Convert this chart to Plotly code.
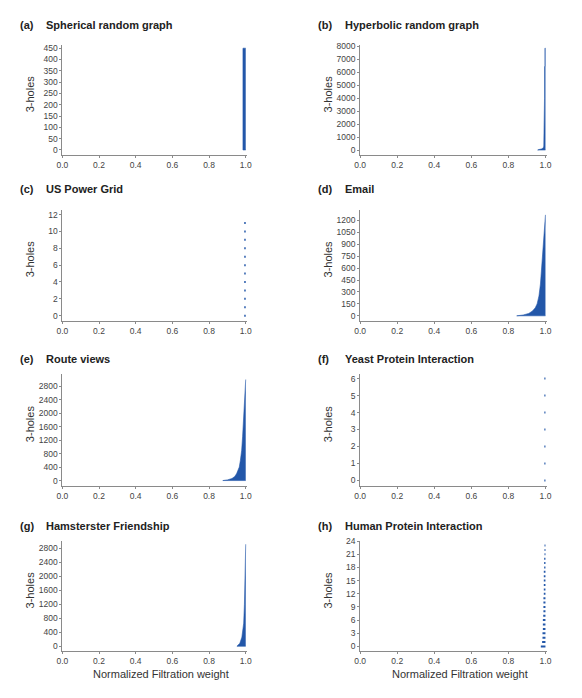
import plotly.graph_objects as go

# The page body has an 8px margin, so the figure is drawn 8px in from the top-left corner.
OFF = 8.0
W, H = 582 - 2 * int(OFF), 698 - 2 * int(OFF)
BLUE = '#2357a9'
FONT = 'Liberation Sans, Arial, Helvetica, sans-serif'

# ---------------- data ----------------
panel_letters = ['(a)', '(b)', '(c)', '(d)', '(e)', '(f)', '(g)', '(h)']
panel_names = ['Spherical random graph', 'Hyperbolic random graph', 'US Power Grid', 'Email',
               'Route views', 'Yeast Protein Interaction', 'Hamsterster Friendship',
               'Human Protein Interaction']

DEATH = 1.0  # every 3-hole dies at the end of the normalized filtration

# dense barcodes: envelope of the births (left edge), per hole index
spherical_idx = [0, 450]
spherical_birth = [0.985, 0.985]

hyperbolic_idx = [0, 40, 80, 150, 300, 800, 1400, 2000, 4000, 6400, 6500, 7850]
hyperbolic_birth = [0.958, 0.965, 0.978, 0.988, 0.991, 0.992, 0.993, 0.994, 0.995, 0.995, 0.997, 0.997]

email_idx = [0, 10, 30, 60, 100, 150, 250, 400, 600, 800, 1000, 1200, 1270]
email_birth = [0.845, 0.88, 0.91, 0.93, 0.945, 0.955, 0.965, 0.973, 0.979, 0.984, 0.989, 0.994, 0.996]

route_idx = [0, 20, 60, 120, 200, 400, 600, 900, 1300, 1900, 2500, 3000]
route_birth = [0.875, 0.90, 0.925, 0.94, 0.95, 0.965, 0.971, 0.978, 0.983, 0.989, 0.993, 0.996]

hamster_idx = [0, 40, 85, 260, 660, 1200, 1970, 2910]
hamster_birth = [0.952, 0.96, 0.968, 0.979, 0.989, 0.993, 0.995, 0.996]

# sparse barcodes: one birth per hole (index = position in list)
power_birth = [0.992, 0.992, 0.992, 0.992, 0.992, 0.992, 0.992, 0.992, 0.992, 0.992, 0.992, 0.992]
yeast_birth = [0.994, 0.994, 0.994, 0.994, 0.994, 0.994, 0.994]
human_birth = [0.975, 0.982, 0.984, 0.984, 0.986, 0.986, 0.986, 0.988, 0.989, 0.989, 0.989, 0.989,
               0.991, 0.991, 0.991, 0.991, 0.991, 0.991, 0.993, 0.993, 0.993, 0.995, 0.995, 0.995]

x_ticks = [0.0, 0.2, 0.4, 0.6, 0.8, 1.0]
x_ticktext = ['0.0', '0.2', '0.4', '0.6', '0.8', '1.0']

y_ticks = [
    [0, 50, 100, 150, 200, 250, 300, 350, 400, 450],
    [0, 1000, 2000, 3000, 4000, 5000, 6000, 7000, 8000],
    [0, 2, 4, 6, 8, 10, 12],
    [0, 150, 300, 450, 600, 750, 900, 1050, 1200],
    [0, 400, 800, 1200, 1600, 2000, 2400, 2800],
    [0, 1, 2, 3, 4, 5, 6],
    [0, 400, 800, 1200, 1600, 2000, 2400, 2800],
    [0, 3, 6, 9, 12, 15, 18, 21, 24],
]

# ---------------- layout geometry (page pixels) ----------------
col_x = [(57.3, 245.8), (361.0, 551.5)]
row_y = [(40.5, 151.0), (206.0, 318.0), (372.0, 484.0), (540.0, 651.0)]
y_ranges = [[-22, 463], [-380, 8080], [-0.6, 12.6], [-62, 1337],
            [-147, 3154], [-0.3, 6.25], [-143, 3000], [-1.1, 24]]
title_y = [20.5, 185.7, 356.7, 525.0]
letter_x = [12.5, 315.5]
name_x = [38.5, 343.5]
ytitle_x = [24.5, 328.5]
xtitle_x = [157.8, 463.0]


def px(x):
    return (x - OFF) / W


def py(y):
    return 1 - (y - OFF) / H


fig = go.Figure()


def add_dense(k, idx, birth):
    xs = [DEATH] + birth + [DEATH]
    ys = [idx[0]] + idx + [idx[-1]]
    fig.add_trace(go.Scatter(x=xs, y=ys, mode='lines', fill='toself', fillcolor=BLUE,
                             line=dict(color=BLUE, width=0.6), hoverinfo='skip',
                             xaxis=f'x{k+1}', yaxis=f'y{k+1}', showlegend=False))


def add_sparse(k, birth):
    xs, ys = [], []
    for i, b in enumerate(birth):
        xs += [b, DEATH, None]
        ys += [i, i, None]
    fig.add_trace(go.Scatter(x=xs, y=ys, mode='lines', line=dict(color=BLUE, width=2),
                             hoverinfo='skip', xaxis=f'x{k+1}', yaxis=f'y{k+1}',
                             showlegend=False, cliponaxis=False))


add_dense(0, spherical_idx, spherical_birth)
add_dense(1, hyperbolic_idx, hyperbolic_birth)
add_sparse(2, power_birth)
add_dense(3, email_idx, email_birth)
add_dense(4, route_idx, route_birth)
add_sparse(5, yeast_birth)
add_dense(6, hamster_idx, hamster_birth)
add_sparse(7, human_birth)

layout = dict(width=W, height=H, margin=dict(l=0, r=0, t=0, b=0),
              paper_bgcolor='white', plot_bgcolor='white',
              font=dict(family=FONT, color='#333'), showlegend=False)
annotations = []
axis_common = dict(showline=True, linecolor='#8a8a8a', linewidth=1, ticks='outside',
                   ticklen=2, tickcolor='#8a8a8a', tickwidth=1, showgrid=False,
                   zeroline=False, tickfont=dict(size=8.5, color='#444', family=FONT),
                   fixedrange=True)

for k in range(8):
    r, c = divmod(k, 2)
    x0, x1 = col_x[c]
    y0, y1 = row_y[r]
    layout[f'xaxis{k+1}'] = dict(domain=[px(x0), px(x1)], range=[0, 1.008],
                                 tickvals=x_ticks, ticktext=x_ticktext,
                                 anchor=f'y{k+1}', **axis_common)
    layout[f'yaxis{k+1}'] = dict(domain=[py(y1), py(y0)], range=y_ranges[k],
                                 tickvals=y_ticks[k], ticktext=[str(v) for v in y_ticks[k]],
                                 anchor=f'x{k+1}', **axis_common)
    annotations.append(dict(x=px(letter_x[c]), y=py(title_y[r]), xref='paper', yref='paper',
                            text=f'<b>{panel_letters[k]}</b>', showarrow=False,
                            xanchor='left', yanchor='middle',
                            font=dict(size=11, color='#222', family=FONT)))
    annotations.append(dict(x=px(name_x[c]), y=py(title_y[r]), xref='paper', yref='paper',
                            text=f'<b>{panel_names[k]}</b>', showarrow=False,
                            xanchor='left', yanchor='middle',
                            font=dict(size=11, color='#222', family=FONT)))
    annotations.append(dict(x=px(ytitle_x[c]), y=py((y0 + y1) / 2 - 6), xref='paper',
                            yref='paper', text='3-holes', showarrow=False, textangle=-90,
                            xanchor='center', yanchor='middle',
                            font=dict(size=11, color='#333', family=FONT)))
    if r == 3:
        annotations.append(dict(x=px(xtitle_x[c]), y=py(674), xref='paper', yref='paper',
                                text='Normalized Filtration weight', showarrow=False,
                                xanchor='center', yanchor='middle',
                                font=dict(size=11, color='#333', family=FONT)))

layout['annotations'] = annotations
fig.update_layout(**layout)
fig.write_html('out.html')
